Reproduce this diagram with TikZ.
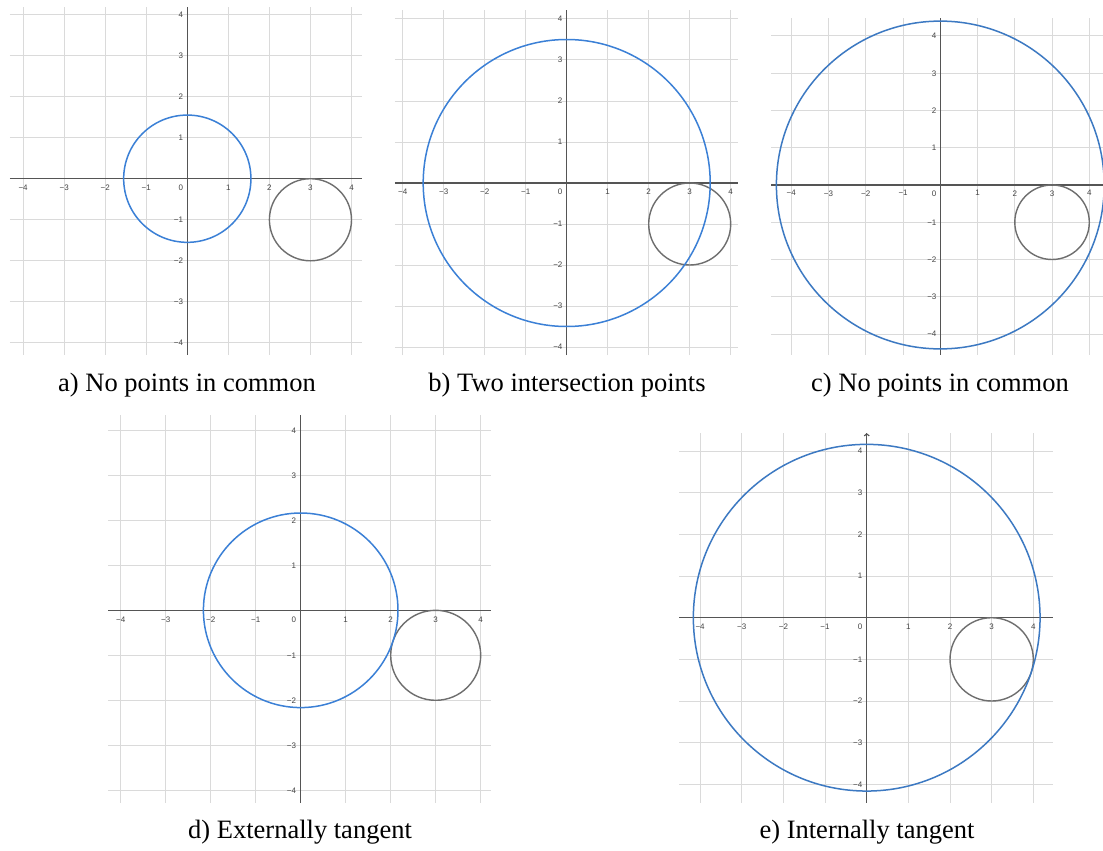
\documentclass[tikz,border=0pt]{standalone}
\usepackage{fontspec}
\setmainfont{Liberation Serif}
\newfontfamily\tickfont{Liberation Sans}
\usetikzlibrary{arrows.meta}
\definecolor{gridc}{HTML}{DADADA}
\definecolor{axisc}{HTML}{555555}
\definecolor{bluec}{HTML}{3B80D6}
\definecolor{bluedark}{HTML}{3C79C2}
\definecolor{grayc}{HTML}{6E6E6E}
\definecolor{tickc}{HTML}{444444}
\tikzset{
 gridline/.style={draw=gridc, line width=1pt},
 axisline/.style={draw=axisc, line width=1.1pt},
 bigcircle/.style={line width=1.5pt},
 smallcircle/.style={draw=grayc, line width=1.4pt},
 ticklabel/.style={font=\tickfont\fontsize{8}{9}\selectfont, text=tickc, inner sep=0pt},
 caption/.style={font=\fontsize{26.5}{30}\selectfont, inner sep=0pt}
}
% #1 name, #2 shift, #3 unit, #4 xmin, #5 xmax, #6 ymin, #7 ymax, #8 radius, #9 colour
\newcommand\plotpanel[9]{%
\begin{scope}[shift={#2}, x=#3pt, y=#3pt]
 \draw[gridline, step=1] (#4,#6) grid (#5,#7);
 \draw[axisline] (#4,0) -- (#5,0);
 \draw[axisline] (0,#6) -- (0,#7);
 \foreach \i in {1,...,4}{
   \node[ticklabel, anchor=north] (#1-xp\i) at (\i,-0.14) {\i};
   \node[ticklabel, anchor=north] (#1-xn\i) at (-\i,-0.14) {−\i};
   \node[ticklabel, anchor=east] (#1-yp\i) at (-0.1,\i) {\i};
   \node[ticklabel, anchor=east] (#1-yn\i) at (-0.1,-\i) {−\i};
 }
 \node[ticklabel, anchor=north east] (#1-o) at (-0.1,-0.14) {0};
 \draw[smallcircle] (3,-1) circle[radius=1];
 \draw[bigcircle, draw=#9] (0,0) circle[radius=#8];
\end{scope}}
\begin{document}
\begin{tikzpicture}[x=1pt,y=1pt]
\useasboundingbox (0,0) rectangle (1103,-851);
\fill[white] (0,0) rectangle (1103,-851);
\plotpanel{a}{(187.3,-178.7)}{41.05}{-4.32}{4.26}{-4.29}{4.19}{1.55}{bluec}
\plotpanel{b}{(566.7,-183)}{41.0}{-4.19}{4.19}{-4.2}{4.22}{3.5}{bluec}
\plotpanel{c}{(940.3,-185)}{37.25}{-4.54}{4.45}{-4.56}{4.47}{4.4}{bluedark}
\plotpanel{d}{(300.7,-610.3)}{45.0}{-4.28}{4.22}{-4.28}{4.34}{2.162}{bluec}
\plotpanel{e}{(866.7,-617.7)}{41.65}{-4.5}{4.47}{-4.44}{4.43}{4.162}{bluedark}
\begin{scope}[shift={(866.7,-617.7)}, x=41.65pt, y=41.65pt]
 \coordinate (e-top) at (0,4.43);
 \coordinate (e-topbase) at (0,4.2);
 \draw[axisline, -{Straight Barb[length=2pt,width=5pt]}] (e-topbase) -- (e-top);
\end{scope}
\node[caption] (capa) at (187,-385) {a) No points in common};
\node[caption] (capb) at (567,-385) {b) Two intersection points};
\node[caption] (capc) at (940,-385) {c) No points in common};
\node[caption] (capd) at (300,-832) {d) Externally tangent};
\node[caption] (cape) at (867,-832) {e) Internally tangent};
\end{tikzpicture}
\end{document}
